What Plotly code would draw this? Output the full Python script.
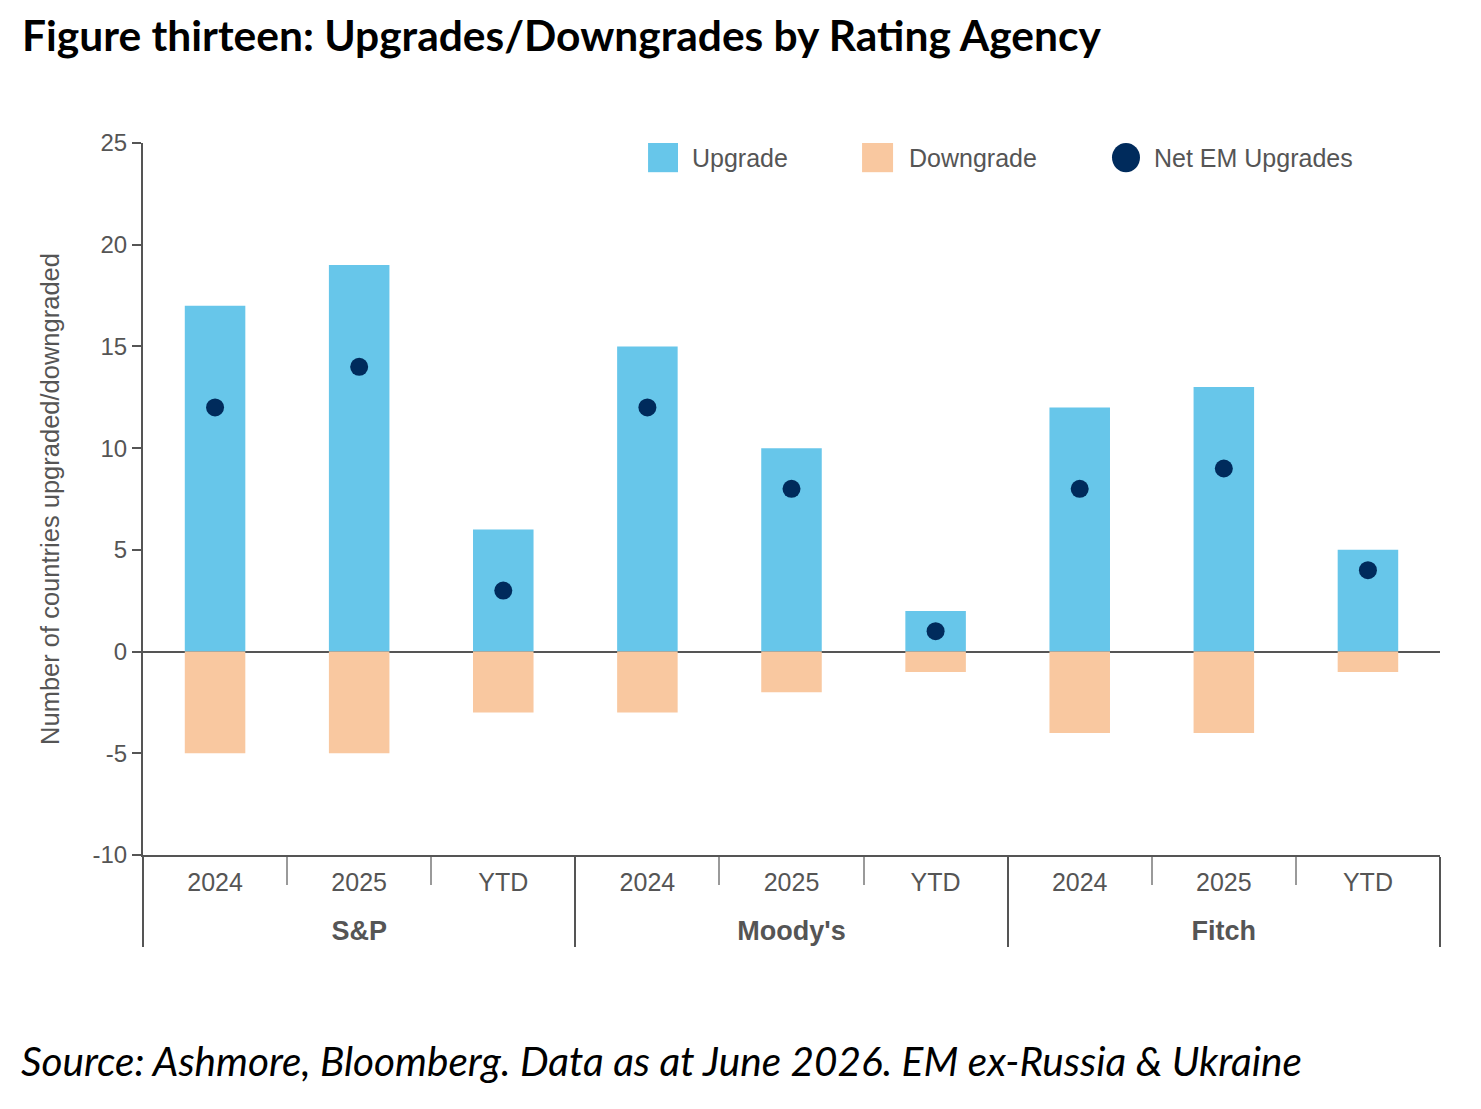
import plotly.graph_objects as go

agencies = ["S&P", "S&P", "S&P", "Moody's", "Moody's", "Moody's", "Fitch", "Fitch", "Fitch"]
periods = ["2024", "2025", "YTD", "2024", "2025", "YTD", "2024", "2025", "YTD"]
upgrades = [17, 19, 6, 15, 10, 2, 12, 13, 5]
downgrades = [-5, -5, -3, -3, -2, -1, -4, -4, -1]
net_upgrades = [12, 14, 3, 12, 8, 1, 8, 9, 4]
y_ticks = [-10, -5, 0, 5, 10, 15, 20, 25]
y_tick_text = ["-10", "-5", "0", "5", "10", "15", "20", "25"]

UP_COLOR = "#67C6EA"
DOWN_COLOR = "#F9C8A0"
NET_COLOR = "#002B5C"
AXIS_COLOR = "#555555"
TEXT_GREY = "#555555"
SANS = "Liberation Sans, Arial, sans-serif"

# tick labels sized per level; the outer (agency) level is pushed down one short line
group_labels = [f"<br><span style='font-size:27px;font-weight:bold'>{a}</span>" for a in agencies]
period_labels = [f"<span style='font-size:25px'>{p}</span>" for p in periods]
x = [group_labels, period_labels]

fig = go.Figure()
fig.add_trace(go.Bar(x=x, y=upgrades, name="Upgrade", marker={"color": UP_COLOR, "line": {"width": 0}}, width=0.42, showlegend=False))
fig.add_trace(go.Bar(x=x, y=downgrades, name="Downgrade", marker={"color": DOWN_COLOR, "line": {"width": 0}}, width=0.42, showlegend=False))
fig.add_trace(
    go.Scatter(
        x=x, y=net_upgrades, mode="markers", name="Net EM Upgrades",
        marker={"color": NET_COLOR, "size": 18}, showlegend=False,
    )
)

# hand-made legend to get the large swatches of the original
legend_items = [
    ("rect", UP_COLOR, 0.3894, 0.4125, "Upgrade", 0.4217),
    ("rect", DOWN_COLOR, 0.5544, 0.5783, "Downgrade", 0.5890),
    ("circle", NET_COLOR, 0.7471, 0.7687, "Net EM Upgrades", 0.7780),
]
shapes = []
annotations = []
for kind, color, x0, x1, label, tx in legend_items:
    shapes.append({
        "type": kind, "xref": "paper", "yref": "paper", "x0": x0, "x1": x1, "y0": 0.959, "y1": 1.0,
        "fillcolor": color, "line": {"width": 0},
    })
    annotations.append({
        "text": label, "xref": "paper", "yref": "paper", "x": tx, "y": 0.979, "xanchor": "left", "yanchor": "middle",
        "showarrow": False, "font": {"family": SANS, "size": 25, "color": TEXT_GREY},
    })

annotations.append({
    "text": "<i>Source: Ashmore, Bloomberg. Data as at June 2026. EM ex-Russia &amp; Ukraine</i>",
    "xref": "paper", "yref": "paper", "x": -0.0958, "y": -0.288, "xanchor": "left", "yanchor": "middle",
    "showarrow": False, "font": {"family": "Lato, Carlito, sans-serif", "size": 40.5, "color": "black"},
})

fig.update_layout(
    width=1473,
    height=1101,
    barmode="overlay",
    plot_bgcolor="white",
    paper_bgcolor="white",
    margin={"l": 135, "r": 41, "t": 135, "b": 254},
    showlegend=False,
    title={
        "text": "<b>Figure thirteen: Upgrades/Downgrades by Rating Agency</b>",
        "x": 0.0095, "xanchor": "left", "y": 0.9745, "yanchor": "middle",
        "font": {"family": "Lato, Carlito, sans-serif", "size": 42.5, "color": "black"},
    },
    shapes=shapes,
    annotations=annotations,
)

fig.update_yaxes(
    range=[-10, 25], tickvals=y_ticks, ticktext=y_tick_text, showgrid=False,
    showline=True, linecolor=AXIS_COLOR, linewidth=2, ticks="outside", ticklen=9, tickcolor=AXIS_COLOR, tickwidth=2,
    zeroline=True, zerolinecolor=AXIS_COLOR, zerolinewidth=2,
    tickfont={"family": SANS, "size": 24, "color": TEXT_GREY},
    title={"text": "Number of countries upgraded/downgraded", "standoff": 26,
           "font": {"family": SANS, "size": 25.5, "color": TEXT_GREY}},
)
fig.update_xaxes(
    type="multicategory", range=[-0.5, 8.5], showgrid=False,
    showline=True, linecolor=AXIS_COLOR, linewidth=2,
    ticks="outside", tickson="boundaries", ticklen=28, tickcolor="#9a9a9a", tickwidth=2,
    ticklabelstandoff=9,
    showdividers=True, dividercolor=AXIS_COLOR, dividerwidth=2,
    tickfont={"family": SANS, "size": 21, "color": TEXT_GREY},
)

fig.write_html("out.html")
